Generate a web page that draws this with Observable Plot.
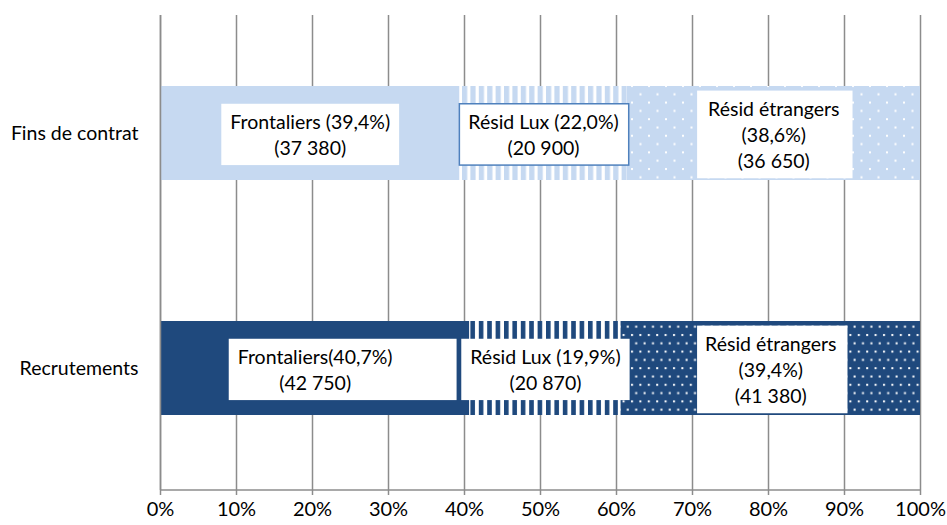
<!DOCTYPE html>
<html><head><meta charset="utf-8">
<script src="https://cdn.jsdelivr.net/npm/d3@7"></script>
<script src="https://cdn.jsdelivr.net/npm/@observablehq/plot@0.6"></script>
<style>body{margin:0;background:#fff} svg{font-family:Lato, sans-serif}</style>
</head><body><div id="chart"></div>
<script>
// ---- data ----
const categories = ["Fins de contrat", "Recrutements"];
const groups = ["Frontaliers", "Résid Lux", "Résid étrangers"];
const finsPct = [39.4, 22.0, 38.6];
const recrPct = [40.7, 19.9, 39.4];
const finsLabels = ["Frontaliers (39,4%)\n(37 380)", "Résid Lux (22,0%)\n(20 900)", "Résid étrangers\n(38,6%)\n(36 650)"];
const recrLabels = ["Frontaliers(40,7%)\n(42 750)", "Résid Lux (19,9%)\n(20 870)", "Résid étrangers\n(39,4%)\n(41 380)"];
const xTicks = [0, 10, 20, 30, 40, 50, 60, 70, 80, 90, 100];

// ---- styles ----
const light = "#c6d9f1", dark = "#1f497d", grid = "#8c8c8c";
const finsFills = [light, "url(#stripesLight)", "url(#dotsLight)"];
const recrFills = [dark, "url(#stripesDark)", "url(#dotsDark)"];
const boxPadLeft = [9, 9, 11, 9, 9, 8];
const boxPadRight = [9, 10, 13, 64, 9, 11];
const boxStroke = ["none", "#4f81bd", "none", "none", "none", "none"];

const rows = [];
groups.forEach((g, i) => rows.push({cat: categories[0], group: g, pct: finsPct[i], label: finsLabels[i], fill: finsFills[i]}));
groups.forEach((g, i) => rows.push({cat: categories[1], group: g, pct: recrPct[i], label: recrLabels[i], fill: recrFills[i]}));

const chart = Plot.plot({
  width: 947, height: 525,
  marginLeft: 160, marginRight: 27, marginTop: 15, marginBottom: 35,
  x: {domain: [0, 100]},
  y: {domain: categories, paddingInner: 0.6, paddingOuter: 0.3, insetBottom: 4},
  color: {type: "identity"},
  style: {fontFamily: "Lato, sans-serif", background: "#fff", overflow: "visible"},
  marks: [
    Plot.gridX(xTicks, {stroke: grid, strokeOpacity: 1, strokeWidth: 1.5}),
    Plot.barX(rows, Plot.stackX({x: "pct", y: "cat", fill: "fill"})),
    Plot.ruleX([0], {stroke: grid, strokeWidth: 1.5}),
    (index, scales, values, dims) => {
      const y = dims.height - dims.marginBottom;
      const l = d3.create("svg:line")
        .attr("x1", dims.marginLeft).attr("x2", dims.width - dims.marginRight)
        .attr("y1", y).attr("y2", y)
        .attr("stroke", grid).attr("stroke-width", 1.5);
      return l.node();
    },
    Plot.axisX(xTicks, {tickSize: 5, tickPadding: 6, stroke: grid, strokeWidth: 1.5, fill: "#000", fontSize: 20, tickFormat: d => d + "%", label: null}),
    Plot.axisY({tickSize: 0, tickPadding: 22, fill: "#000", fontSize: 19.5, label: null}),
    Plot.text(rows, Plot.stackX({x: "pct", y: "cat", text: "label", fill: "#000", fontSize: 19.5, lineHeight: 1.35}))
  ]
});

const defs = d3.select(chart).insert("defs", ":first-child");
function stripes(id, color, w) {
  const p = defs.append("pattern").attr("id", id).attr("patternUnits", "userSpaceOnUse").attr("width", 8.4).attr("height", 10);
  p.append("rect").attr("width", 8.4).attr("height", 10).attr("fill", "#fff");
  p.append("rect").attr("width", w).attr("height", 10).attr("fill", color);
}
function dots(id, color, w, h, pts) {
  const p = defs.append("pattern").attr("id", id).attr("patternUnits", "userSpaceOnUse").attr("width", w).attr("height", h);
  p.append("rect").attr("width", w).attr("height", h).attr("fill", color);
  pts.forEach(([x, y]) => p.append("rect").attr("x", x).attr("y", y).attr("width", 2).attr("height", 2).attr("fill", "#fff"));
}
stripes("stripesLight", light, 5.2);
stripes("stripesDark", dark, 4.6);
dots("dotsLight", light, 17, 16.6, [[2, 2], [10.5, 10.3]]);
dots("dotsDark", dark, 8.4, 16.6, [[1, 2], [5.2, 10.3]]);

document.getElementById("chart").append(chart);

// white label boxes behind segment labels
const textGroups = chart.querySelectorAll('g[aria-label="text"]');
const labelGroup = textGroups[textGroups.length - 1];
d3.select(labelGroup).selectAll("text").each(function(d, i) {
  const b = this.getBBox();
  const pl = boxPadLeft[i], pr = boxPadRight[i], py = 6;
  d3.select(this.parentNode).insert("rect", () => this)
    .attr("transform", this.getAttribute("transform"))
    .attr("x", b.x - pl).attr("y", b.y - py)
    .attr("width", b.width + pl + pr).attr("height", b.height + 2 * py)
    .attr("fill", "#fff").attr("stroke", boxStroke[i]).attr("stroke-width", 1.5);
});
</script>
</body></html>
